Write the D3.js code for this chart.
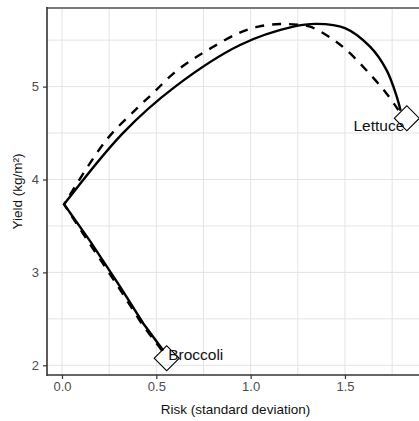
<!DOCTYPE html>
<html>
<head>
<meta charset="utf-8">
<script src="https://cdn.jsdelivr.net/npm/d3@7"></script>
<style>
  html, body { margin: 0; padding: 0; background: #fff; }
  svg { display: block; font-family: "Liberation Sans", Arial, sans-serif; }
</style>
</head>
<body>
<svg id="chart" width="419" height="421"></svg>
<script>
// ---- data (risk = standard deviation, yield = kg/m²) ----
const solidLowerRisk  = [0.537, 0.431, 0.307, 0.148, 0.011];
const solidLowerYield = [2.16, 2.45, 2.85, 3.34, 3.733];
const solidUpperRisk  = [0.011, 0.323, 0.60, 0.944, 1.226, 1.35, 1.50, 1.633, 1.72, 1.775, 1.795];
const solidUpperYield = [3.733, 4.50, 5.00, 5.448, 5.645, 5.675, 5.63, 5.43, 5.18, 4.89, 4.74];

const dashedLowerRisk  = [0.53, 0.425, 0.30, 0.14, 0.011];
const dashedLowerYield = [2.16, 2.44, 2.84, 3.33, 3.733];
const dashedUpperRisk  = [0.011, 0.237, 0.40, 0.493, 0.59, 0.69, 0.795, 0.93, 1.041, 1.156, 1.25, 1.315, 1.421, 1.51, 1.616, 1.713, 1.783];
const dashedUpperYield = [3.733, 4.43, 4.77, 4.95, 5.14, 5.29, 5.42, 5.57, 5.645, 5.674, 5.665, 5.645, 5.53, 5.39, 5.17, 4.945, 4.748];

const cropNames  = ["Broccoli", "Lettuce"];
const cropRisk   = [0.555, 1.828];
const cropYield  = [2.075, 4.659];

const xTicks = [0, 0.5, 1.0, 1.5];
const xTickLabels = ["0.0", "0.5", "1.0", "1.5"];
const xMinor = [0.25, 0.75, 1.25, 1.75];
const yTicks = [2, 3, 4, 5];
const yTickLabels = ["2", "3", "4", "5"];
const yMinor = [2.5, 3.5, 4.5, 5.5];

const xTitle = "Risk (standard deviation)";
const yTitle = "Yield (kg/m²)";

// ---- layout ----
const svg = d3.select("#chart");
const pLeft = 47, pRight = 424, pTop = 8, pBottom = 375;
const x = d3.scaleLinear().domain([-0.0795, 1.919]).range([pLeft, pRight]);
const y = d3.scaleLinear().domain([1.8956, 5.846]).range([pBottom, pTop]);

// panel background
svg.append("rect").attr("x", pLeft).attr("y", pTop)
  .attr("width", pRight - pLeft).attr("height", pBottom - pTop).attr("fill", "#fff");

// grid
const grid = svg.append("g");
grid.selectAll(".vx").data(xMinor.concat(xTicks)).join("line")
  .attr("x1", d => x(d)).attr("x2", d => x(d)).attr("y1", pTop).attr("y2", pBottom)
  .attr("stroke", "#e4e4e4").attr("stroke-width", 1);
grid.selectAll(".hy").data(yMinor.concat(yTicks)).join("line")
  .attr("y1", d => y(d)).attr("y2", d => y(d)).attr("x1", pLeft).attr("x2", pRight)
  .attr("stroke", "#e4e4e4").attr("stroke-width", 1);

// clip
svg.append("clipPath").attr("id", "clip").append("rect")
  .attr("x", pLeft).attr("y", pTop).attr("width", pRight - pLeft).attr("height", pBottom - pTop);
const plot = svg.append("g").attr("clip-path", "url(#clip)");

const zip = (a, b) => a.map((v, i) => [v, b[i]]);
const lineLin = d3.line().x(d => x(d[0])).y(d => y(d[1]));
const lineCurve = d3.line().x(d => x(d[0])).y(d => y(d[1])).curve(d3.curveCatmullRom.alpha(0.5));

function drawSeries(lower, upper, dash) {
  const p1 = lineLin(lower);
  const p2 = lineCurve(upper);
  plot.append("path")
    .attr("d", p1 + "L" + p2.slice(1))
    .attr("fill", "none").attr("stroke", "#000").attr("stroke-width", 2.4)
    .attr("stroke-linejoin", "miter")
    .attr("stroke-dasharray", dash ? "9,8" : null);
}
drawSeries(zip(dashedLowerRisk, dashedLowerYield), zip(dashedUpperRisk, dashedUpperYield), true);
drawSeries(zip(solidLowerRisk, solidLowerYield), zip(solidUpperRisk, solidUpperYield), false);

// diamonds
const crops = cropNames.map((n, i) => ({ name: n, r: cropRisk[i], y: cropYield[i] }));
plot.selectAll(".pt").data(crops).join("path")
  .attr("d", d3.symbol().type(d3.symbolSquare).size(313))
  .attr("transform", d => `translate(${x(d.r)},${y(d.y)}) rotate(45)`)
  .attr("fill", "none").attr("stroke", "#000").attr("stroke-width", 1.1);

// labels
plot.selectAll(".lab").data(crops).join("text")
  .attr("x", d => d.name === "Broccoli" ? x(d.r) + 1.5 : x(d.r) - 2.5)
  .attr("y", d => d.name === "Broccoli" ? y(d.y) + 1.7 : y(d.y) + 13)
  .attr("text-anchor", d => d.name === "Broccoli" ? "start" : "end")
  .attr("font-size", "15.5px").attr("fill", "#111")
  .text(d => d.name);

// panel border / axis lines
svg.append("line").attr("x1", pLeft).attr("x2", 419).attr("y1", pTop).attr("y2", pTop)
  .attr("stroke", "#7a7a7a").attr("stroke-width", 2);
svg.append("line").attr("x1", pLeft).attr("x2", pLeft).attr("y1", pTop - 1).attr("y2", pBottom + 1)
  .attr("stroke", "#333").attr("stroke-width", 1.6);
svg.append("line").attr("x1", pLeft).attr("x2", 419).attr("y1", pBottom).attr("y2", pBottom)
  .attr("stroke", "#333").attr("stroke-width", 1.6);

// axes
const xAxis = d3.axisBottom(x).tickValues(xTicks).tickFormat((d, i) => xTickLabels[i])
  .tickSize(4).tickPadding(3);
const gx = svg.append("g").attr("transform", `translate(0,${pBottom})`).call(xAxis);
gx.select(".domain").remove();
gx.selectAll(".tick line").attr("stroke", "#333").attr("stroke-width", 1.2);
gx.selectAll(".tick text").attr("font-size", "13px").attr("fill", "#4d4d4d")
  .attr("font-family", "Liberation Sans, Arial, sans-serif");

const yAxis = d3.axisLeft(y).tickValues(yTicks).tickFormat((d, i) => yTickLabels[i])
  .tickSize(4).tickPadding(4);
const gy = svg.append("g").attr("transform", `translate(${pLeft},0)`).call(yAxis);
gy.select(".domain").remove();
gy.selectAll(".tick line").attr("stroke", "#333").attr("stroke-width", 1.2);
gy.selectAll(".tick text").attr("font-size", "13px").attr("fill", "#4d4d4d")
  .attr("font-family", "Liberation Sans, Arial, sans-serif");

// titles
svg.append("text").attr("x", (pLeft + pRight) / 2).attr("y", 414)
  .attr("text-anchor", "middle").attr("font-size", "13.5px").attr("fill", "#111")
  .text(xTitle);
svg.append("text").attr("transform", `translate(21.5,${(pTop + pBottom) / 2}) rotate(-90)`)
  .attr("text-anchor", "middle").attr("font-size", "13.5px").attr("fill", "#111")
  .text(yTitle);
</script>
</body>
</html>
